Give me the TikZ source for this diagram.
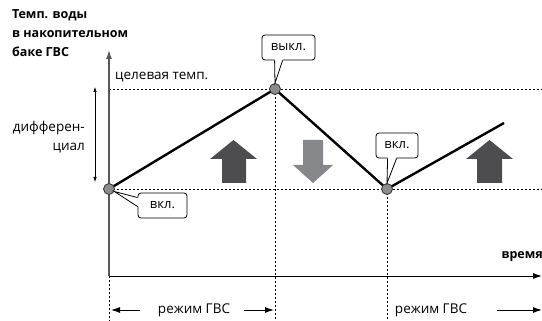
\documentclass[tikz,border=0pt]{standalone}
\usepackage{fontspec}
\setmainfont{Open Sans}
\usepackage{xcolor}
\usetikzlibrary{arrows.meta,positioning,calc,backgrounds}

\definecolor{upgray}{HTML}{4D4D4F}
\definecolor{downgray}{HTML}{86878A}
\definecolor{dotgray}{HTML}{8C8C8E}
\definecolor{axisgray}{HTML}{58585A}

\begin{document}
\begin{tikzpicture}[x=1pt,y=-1pt,
  lbl/.style={font=\fontsize{13.5}{19}\selectfont,inner sep=0pt},
  ttl/.style={font=\fontsize{12.5}{19}\selectfont\bfseries,align=left,inner sep=0pt},
  callbox/.style={draw=black,line width=0.8pt,fill=white,rounded corners=3pt,
                  minimum height=25pt,inner sep=0pt,font=\fontsize{13}{15}\selectfont},
  dot/.style={circle,draw=black!80,fill=dotgray,line width=0.8pt,minimum size=11pt,inner sep=0pt},
  gridline/.style={dash pattern=on 2pt off 2pt,line width=0.8pt},
  temp/.style={line width=2.4pt,line join=miter},
  arr/.style={-{Latex[length=9pt,width=6pt]},line width=1pt},
  pointer/.style={draw=black,line width=0.8pt,fill=white,line join=miter}
]
\useasboundingbox (0,0) rectangle (542,321);

% axes and reference points
\coordinate (O) at (109,276);
\coordinate (ytop) at (109,50);
\coordinate (xend) at (542,276);
\coordinate (tgtL) at (109,89);
\coordinate (tgtR) at (542,89);
\coordinate (lowR) at (542,189);
\coordinate (tend) at (504,123);
\coordinate (bot) at (0,321);

% switching points
\node[dot] (p0) at (109,189) {};
\node[dot] (p1) at (275,89) {};
\node[dot] (p2) at (387,189) {};

\begin{scope}[on background layer]
\draw[gridline] (tgtL) -- (tgtR);
\draw[gridline] (p0.center) -- (lowR);
\draw[gridline] (p1.center) -- (p1 |- bot);
\draw[gridline] (p2.center) -- (p2 |- bot);
\draw[gridline] (O) -- (O |- bot);
\draw[-{Latex[length=9pt,width=6pt]},line width=1.3pt,draw=axisgray] (O) -- (ytop);
\draw[arr,line width=0.9pt] (O) -- (xend);
\draw[temp] (p0.center) -- (p1.center) -- (p2.center) -- (tend);
\end{scope}

% heating / cooling arrows
\fill[upgray] (210,159) -- (233.5,140) -- (257,159) -- (246,159) -- (246,183) -- (222,183) -- (222,159) -- cycle;
\fill[downgray] (293,165) -- (313,183) -- (333,165) -- (323,165) -- (323,140) -- (303,140) -- (303,165) -- cycle;
\fill[upgray] (466,159) -- (489.5,140) -- (513,159) -- (502,159) -- (502,183) -- (477,183) -- (477,159) -- cycle;

% labels
\node[ttl,anchor=north west] (title) at (12,9) {Темп. воды\\в накопительном\\баке ГВС};
\node[lbl,anchor=west] (target) at (115,77) {целевая темп.};
\node[lbl,align=right,anchor=east] (diff) at (85,137.5) {дифферен-\\циал};
\node[lbl,font=\fontsize{12.5}{15}\selectfont\bfseries,anchor=east] (time) at (543,257) {время};
\node[lbl] (mode1) at (194,310) {режим ГВС};
\node[lbl] (mode2) at (431,310) {режим ГВС};

\coordinate (dtop) at (95,87);
\coordinate (dbot) at (95,182);
\draw[{Latex[length=5pt,width=3.5pt]}-{Latex[length=5pt,width=3.5pt]},line width=0.6pt] (dtop) -- (dbot);

\draw[arr] ([xshift=-18pt]mode1.west) -- ([xshift=2pt]O |- mode1);
\draw[arr] ([xshift=14pt]mode1.east) -- ([xshift=-1pt]p1 |- mode1);
\draw[arr] ([xshift=30pt]mode2.east) -- (xend |- mode2);

% callouts
\node[callbox,minimum width=53pt] (off) at (288.5,47.5) {выкл.};
\node[callbox,minimum width=49pt] (onA) at (162.5,205.5) {вкл.};
\node[callbox,minimum width=42pt] (onB) at (397,145.5) {вкл.};

\coordinate (offa) at ($(off.south west)+(13,0)$);
\coordinate (offb) at ($(off.south west)+(21,0)$);
\fill[white] ($(offa)+(0,-1.2)$) -- (p1.north) -- ($(offb)+(0,-1.2)$) -- cycle;
\draw[line width=0.8pt] (offa) -- (p1.north) -- (offb);

\coordinate (onAa) at ($(onA.north west)+(0,5)$);
\coordinate (onAb) at ($(onA.north west)+(0,14)$);
\fill[white] ($(onAa)+(1.2,0)$) -- (p0.-25) -- ($(onAb)+(1.2,0)$) -- cycle;
\draw[line width=0.8pt] (onAa) -- (p0.-25) -- (onAb);

\coordinate (onBa) at ($(onB.south west)+(12,0)$);
\coordinate (onBb) at ($(onB.south west)+(21,0)$);
\fill[white] ($(onBa)+(0,-1.2)$) -- (p2.north) -- ($(onBb)+(0,-1.2)$) -- cycle;
\draw[line width=0.8pt] (onBa) -- (p2.north) -- (onBb);
\end{tikzpicture}
\end{document}
